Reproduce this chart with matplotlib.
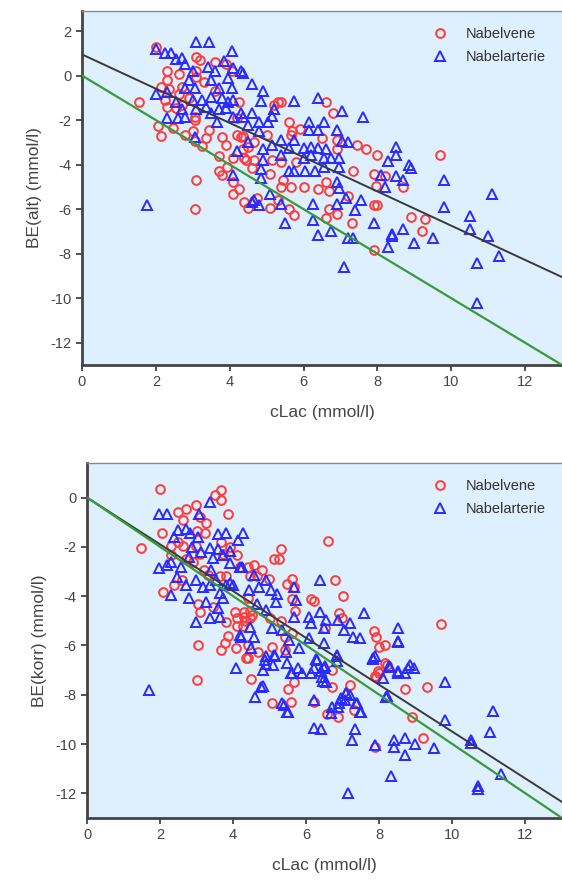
import numpy as np
import matplotlib
matplotlib.use("Agg")
import matplotlib.pyplot as plt

# ---------------- data ----------------
top_vene = [
    (1.54,-1.2),(2.0,1.3),(2.3,0.2),(2.3,-0.2),(2.15,-0.5),(2.35,-0.6),(2.24,-1.1),(2.55,-1.45),(2.3,-1.4),
    (2.05,-2.25),(2.15,-2.7),(2.46,-2.35),(2.64,0.05),(2.7,-0.5),(3.05,-2.0),(3.0,-2.5),(3.1,0.85),(3.2,0.7),
    (3.1,0.2),(3.3,-0.3),(3.1,-0.05),(3.05,-2.95),(2.78,-2.65),(3.25,-3.15),(3.1,-4.7),(3.6,-0.7),(3.6,0.6),
    (3.9,0.5),(4.07,0.2),(3.45,-2.45),(3.36,-2.8),(3.8,-2.75),(3.9,-3.1),(3.7,-3.6),(3.94,-4.1),(3.7,-4.3),
    (3.8,-4.45),(4.1,-3.7),(4.2,-2.65),(4.35,-2.7),(4.4,-3.7),(4.1,-4.8),(4.25,-1.2),(4.2,-1.9),(2.64,-0.85),
    (2.9,-1.0),(3.05,-1.85),(2.7,-1.3),
    (5.3,-1.2),(5.2,-1.3),(5.4,-1.2),(6.6,-1.2),(6.8,-1.7),(5.6,-2.1),(5.7,-2.5),(5.9,-2.4),(5.65,-2.65),
    (4.3,-2.75),(4.5,-3.2),(4.35,-3.3),(4.65,-3.0),(5.0,-2.65),(6.5,-2.8),(6.9,-2.9),(6.9,-3.3),(7.45,-3.1),
    (7.7,-3.3),(8.0,-3.55),(7.35,-4.3),(7.9,-4.4),(8.2,-4.5),(8.7,-5.0),(7.95,-4.95),(4.45,-3.8),(4.65,-3.8),
    (4.6,-4.15),(5.1,-4.4),(5.15,-3.8),(5.4,-3.9),(5.8,-3.9),(5.45,-4.7),(5.65,-5.0),(5.4,-5.0),(6.0,-5.0),
    (6.4,-5.1),(6.6,-4.8),(6.7,-5.2),(7.2,-5.4),(7.9,-5.8),(8.0,-5.8),(4.4,-5.7),(4.5,-5.95),(5.1,-5.95),
    (5.3,-5.6),(5.6,-6.0),(5.75,-6.25),(6.7,-6.0),(6.9,-6.2),(6.6,-6.4),(7.3,-6.6),(7.9,-7.85),(8.9,-6.35),
    (4.26,-5.1),(9.7,-3.56),(9.3,-6.45),(9.2,-7.0),(3.05,-6.0),(4.1,-5.3),(4.75,-5.5),
]
top_arterie = [
    (3.1,1.5),(3.45,1.5),(2.0,1.2),(2.25,1.0),(2.4,1.0),(2.55,0.75),(2.7,0.8),(2.8,0.5),(4.05,1.1),(3.85,0.65),
    (4.3,0.2),(4.1,0.35),(3.0,0.2),(3.4,0.4),(3.6,0.2),(3.95,-0.1),(3.5,-0.2),(2.9,-0.2),(2.8,-0.55),(3.05,-0.55),
    (3.7,-0.55),(4.05,-0.55),(2.0,-0.85),(2.3,-0.75),(3.0,-1.1),(3.25,-1.1),(3.5,-0.95),(3.8,-1.0),(3.95,-1.2),
    (4.1,-1.1),(2.55,-1.2),(2.7,-1.5),(3.1,-1.5),(3.35,-1.4),(3.5,-1.7),(3.7,-1.5),(3.9,-1.45),(4.1,-1.85),
    (4.3,-1.7),(2.3,-1.9),(2.6,-1.9),(2.8,-1.85),(3.65,-2.1),(3.05,-2.75),(4.2,-3.4),(4.1,-4.45),
    (4.35,0.1),(4.6,-0.4),(4.9,-0.7),(4.85,-1.15),(5.75,-1.15),(6.4,-1.0),(7.05,-1.6),(7.6,-1.85),(5.2,-1.5),
    (5.15,-1.8),(4.6,-1.7),(4.35,-1.85),(5.05,-2.1),(4.8,-2.1),(4.5,-2.2),(6.15,-2.1),(6.55,-2.1),(6.15,-2.45),
    (6.4,-2.45),(6.9,-2.45),(4.8,-2.5),(5.4,-2.9),(5.75,-2.9),(7.05,-2.95),(7.2,-3.0),(4.5,-3.0),(4.9,-3.3),
    (5.15,-3.1),(5.6,-3.25),(6.0,-3.25),(6.2,-3.2),(6.4,-3.25),(6.6,-3.3),(6.2,-3.55),(6.55,-3.7),(6.75,-3.7),
    (6.95,-3.7),(6.0,-3.7),(5.4,-3.55),(4.9,-3.8),(4.85,-4.2),(4.85,-4.6),(5.75,-4.3),(6.05,-4.3),(6.3,-4.3),
    (6.55,-4.1),(6.95,-4.1),(5.6,-4.3),(6.9,-4.8),(6.95,-5.05),(7.15,-5.5),(7.55,-5.6),(6.9,-5.75),(7.4,-6.05),
    (6.25,-5.75),(6.25,-6.5),(5.5,-6.6),(5.1,-5.3),(5.4,-5.75),(4.65,-5.6),(4.8,-5.8),(6.4,-7.15),(6.75,-7.0),
    (7.2,-7.3),(7.35,-7.3),(7.9,-6.6),(8.4,-7.1),(8.7,-6.9),(8.3,-7.7),(9.0,-7.5),
    (8.5,-3.2),(8.5,-3.55),(8.3,-3.85),(8.85,-4.0),(8.9,-4.15),(8.1,-4.45),(8.5,-4.5),(8.7,-4.7),(8.2,-5.0),
    (9.8,-4.7),(11.1,-5.3),(9.8,-5.9),(10.5,-6.3),(10.5,-6.9),(11.0,-7.2),(11.3,-8.1),(10.7,-8.4),(10.7,-10.2),
    (8.4,-7.2),(9.5,-7.3),(1.75,-5.8),(4.6,-5.7),(7.1,-8.6),
]
bot_vene = [
    (1.99,0.36),(1.47,-2.05),(2.04,-1.45),(3.67,0.3),(3.67,-0.1),(3.5,0.1),(3.86,-0.65),(2.5,-0.6),(2.7,-0.45),
    (2.97,-0.3),(3.1,-0.8),(3.27,-1.05),(3.23,-1.45),(3.0,-1.35),(2.64,-0.93),(2.5,-1.8),(2.64,-1.95),(2.3,-1.95),
    (2.97,-1.95),(3.1,-2.3),(2.7,-2.5),(2.3,-2.35),(2.9,-2.6),(3.67,-1.8),(3.9,-2.0),(3.73,-2.28),(4.1,-2.35),
    (3.2,-2.95),(3.3,-3.15),(2.37,-3.55),(2.6,-3.35),(2.07,-3.85),(3.65,-3.2),(3.8,-3.2),(3.05,-4.3),(3.1,-4.65),
    (3.45,-4.45),(3.8,-5.05),(4.05,-4.65),(4.1,-4.9),(4.1,-5.2),(4.3,-4.85),(4.27,-5.2),(4.47,-4.6),(4.47,-4.9),
    (3.86,-5.6),(3.78,-5.9),(3.05,-6.0),(4.4,-2.8),(4.47,-3.2),(4.2,-2.8),
    (5.3,-2.07),(5.12,-2.5),(5.25,-2.5),(6.6,-1.75),(6.8,-3.35),(7.0,-4.0),(4.57,-2.75),(4.8,-2.95),(4.65,-3.2),
    (4.98,-3.3),(5.6,-3.3),(5.47,-3.5),(5.66,-3.63),(6.12,-4.1),(6.2,-4.2),(5.6,-4.1),(5.7,-4.6),(6.9,-4.7),
    (6.97,-4.9),(4.4,-4.06),(4.3,-4.66),(4.35,-5.0),(4.52,-4.78),(5.0,-4.9),(5.3,-5.0),(5.6,-5.5),(5.43,-5.65),
    (5.43,-6.2),(5.07,-6.05),(4.4,-6.5),(6.5,-5.3),(7.85,-5.4),(7.9,-5.65),(8.0,-6.05),(8.15,-6.0),(8.2,-6.8),
    (7.9,-7.3),(8.0,-7.1),(8.7,-7.75),(4.48,-7.35),(5.5,-7.75),(5.66,-7.5),(5.07,-8.35),(5.57,-8.3),(6.7,-7.7),
    (7.2,-7.6),(6.57,-8.8),(6.88,-8.9),(7.3,-8.6),(8.9,-8.9),(4.4,-6.0),
    (9.7,-5.15),(9.3,-7.7),(9.2,-9.77),(3.67,-6.2),(4.08,-6.1),(4.35,-6.5),(3.0,-7.4),(4.68,-6.27),
    (6.22,-8.3),(6.7,-6.98),(7.87,-7.25),(7.97,-7.04),(8.16,-6.7),(7.89,-10.14),
]
bot_arterie = [
    (1.96,-0.65),(2.18,-0.65),(3.37,-0.2),(3.07,-0.65),(2.5,-1.3),(2.72,-1.26),(2.83,-1.42),(2.37,-1.62),
    (3.05,-1.62),(3.59,-1.46),(3.81,-1.42),(4.27,-1.42),(4.14,-1.74),(2.86,-2.02),(3.13,-2.23),(3.37,-2.06),
    (3.59,-2.1),(3.92,-2.15),(3.73,-2.35),(3.46,-2.47),(2.78,-2.43),(2.31,-2.63),(1.96,-2.87),(2.18,-2.75),
    (2.58,-2.83),(3.4,-2.95),(3.92,-2.67),(4.19,-2.83),(2.45,-3.24),(2.99,-3.36),(2.72,-3.56),(3.18,-3.64),
    (3.37,-3.56),(3.54,-3.36),(3.81,-3.56),(3.92,-3.48),(4.0,-3.56),(3.65,-3.89),(3.73,-4.09),(2.29,-3.97),
    (2.78,-4.09),(3.27,-4.25),(3.59,-4.49),(2.99,-5.06),(3.37,-4.9),(3.65,-4.86),(4.19,-5.59),(4.46,-5.26),
    (4.25,-2.83),(4.57,-3.16),(4.9,-3.36),(4.7,-3.64),(4.44,-3.76),(5.03,-3.76),(5.2,-3.9),(5.17,-4.25),
    (5.66,-3.64),(5.71,-4.17),(4.65,-4.3),(4.9,-4.57),(6.39,-4.66),(5.66,-4.85),(6.07,-4.85),(6.12,-5.1),
    (6.53,-4.98),(6.88,-4.98),(7.2,-5.1),(6.48,-5.3),(7.02,-5.38),(7.29,-5.67),(7.48,-5.71),(4.22,-5.67),
    (4.57,-5.67),(5.06,-5.3),(5.33,-5.38),(5.52,-5.79),(6.07,-5.71),(6.48,-5.9),(6.83,-6.4),(7.84,-6.52),
    (8.3,-6.88),(8.52,-7.13),(8.79,-6.92),(4.49,-6.11),(5.12,-6.4),(5.44,-6.28),(5.8,-6.11),(5.47,-6.72),
    (5.61,-7.13),(6.12,-7.13),(6.29,-6.6),(6.48,-6.92),(6.42,-7.29),(6.53,-7.49),(4.76,-7.69),(5.33,-8.34),
    (5.47,-8.7),(6.88,-8.5),(7.1,-7.94),(7.37,-8.34),(7.5,-8.7),(8.19,-8.1),(6.67,-8.74),(6.39,-3.36),
    (7.57,-4.7),(8.52,-5.3),(8.52,-5.8),(8.52,-5.87),(4.87,-6.6),(5.09,-6.8),
    (1.70,-7.8),(4.08,-6.9),(4.81,-6.98),(4.81,-7.66),(4.6,-8.1),(4.9,-6.43),(4.9,-6.77),(5.15,-6.43),
    (5.39,-8.4),(5.49,-8.68),(5.59,-7.11),(5.88,-7.11),(5.78,-6.9),(6.2,-8.2),(6.2,-9.36),(6.41,-9.39),
    (6.7,-8.48),(6.9,-8.34),(6.95,-8.14),(6.22,-6.9),(6.27,-6.57),(6.41,-7.04),(6.51,-6.84),(6.46,-7.45),
    (6.85,-6.43),(6.85,-6.64),(7.05,-8.2),(7.09,-7.93),(7.14,-12.0),(7.24,-9.84),(7.34,-9.39),(7.19,-8.0),
    (7.39,-8.34),(7.48,-8.68),(7.87,-6.43),(7.82,-6.57),(8.11,-7.32),(8.26,-6.84),(8.2,-8.07),(7.87,-10.05),
    (8.31,-11.3),(8.4,-9.84),(8.4,-10.14),(8.7,-9.77),(8.7,-10.46),(8.5,-7.04),(8.7,-7.11),(8.84,-6.8),
    (8.94,-6.9),(8.99,-9.98),(9.5,-10.18),(9.8,-7.5),(9.8,-9.02),(10.5,-9.84),(10.5,-9.95),(10.69,-11.72),
    (10.69,-11.82),(11.03,-9.5),(11.1,-8.64),(11.32,-11.23),
]
# reference / regression lines (end points)
line_x = [0, 13]
top_black_y = [0.95, -9.05]
top_green_y = [0.0, -13.0]
bot_black_y = [0.0, -12.35]
bot_green_y = [0.0, -13.0]

x_ticks = [0, 2, 4, 6, 8, 10, 12]
top_yticks = [2, 0, -2, -4, -6, -8, -10, -12]
bot_yticks = [0, -2, -4, -6, -8, -10, -12]
series_labels = ["Nabelvene", "Nabelarterie"]

# ---------------- styling ----------------
plt.rcParams['font.family'] = ['Liberation Sans', 'DejaVu Sans']
plt.rcParams['axes.unicode_minus'] = False
BG = '#deeffd'
RED = '#ff3b3b'
BLUE = '#2a2aff'
TXT = '#454545'

fig = plt.figure(figsize=(5.62, 8.81), dpi=100)
W, H = 562, 881

def make_ax(left, top, bottom):
    return fig.add_axes([left / W, 1 - bottom / H, 1 - left / W, (bottom - top) / H])

ax1 = make_ax(82, 11, 365)
ax2 = make_ax(87, 463, 818)

def style(ax, ylim, yticks, ylabel, black_y, green_y, vene, arterie):
    ax.set_facecolor(BG)
    v = np.array(vene); a = np.array(arterie)
    ax.plot(v[:, 0], v[:, 1], 'o', mfc='none', mec=RED, mew=1.4, ms=6.3, label=series_labels[0], zorder=3)
    ax.plot(a[:, 0], a[:, 1], '^', mfc='none', mec=BLUE, mew=1.4, ms=6.8, label=series_labels[1], zorder=3)
    ax.plot(line_x, black_y, color='#3a3a3a', lw=1.4, zorder=4)
    ax.plot(line_x, green_y, color='#3a9a3a', lw=1.6, zorder=4)
    ax.set_xlim(0, 13)
    ax.set_ylim(*ylim)
    ax.set_xticks(x_ticks)
    ax.set_yticks(yticks)
    ax.tick_params(direction='out', length=4, width=1.2, colors='#333333', labelcolor=TXT, labelsize=10.5)
    for s in ['left', 'bottom']:
        ax.spines[s].set_color('#444444')
        ax.spines[s].set_linewidth(2.0)
    ax.spines['top'].set_color('#8a8a8a')
    ax.spines['top'].set_linewidth(1.0)
    ax.spines['right'].set_visible(False)
    ax.set_xlabel('cLac (mmol/l)', fontsize=12.5, color=TXT, labelpad=11)
    ax.set_ylabel(ylabel, fontsize=12.5, color=TXT, labelpad=6)
    leg = ax.legend(loc='upper right', frameon=False, fontsize=10.5, handletextpad=1.2,
                    borderaxespad=0.8, labelspacing=0.6, handlelength=1.2, borderpad=0.3)
    for t in leg.get_texts():
        t.set_color('#333333')

style(ax1, (-13, 2.9), top_yticks, 'BE(alt) (mmol/l)', top_black_y, top_green_y, top_vene, top_arterie)
style(ax2, (-13, 1.4), bot_yticks, 'BE(korr) (mmol/l)', bot_black_y, bot_green_y, bot_vene, bot_arterie)

fig.savefig('out.png', dpi=100, facecolor='white')
